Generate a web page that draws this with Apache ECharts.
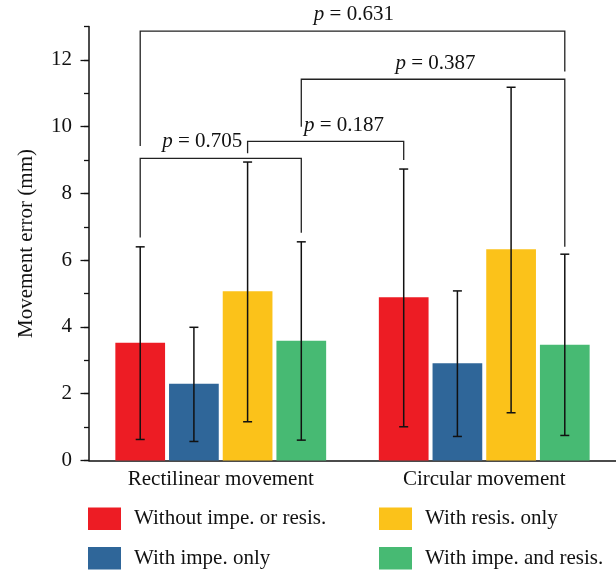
<!DOCTYPE html>
<html>
<head>
<meta charset="utf-8">
<script src="https://cdn.jsdelivr.net/npm/echarts@6/dist/echarts.min.js"></script>
<style>
  html, body { margin: 0; padding: 0; background: #fff; }
  #main { width: 616px; height: 574px; }
</style>
</head>
<body>
<div id="main"></div>
<script>
// data
const categories = ['Rectilinear movement', 'Circular movement'];
const seriesNames = ['Without impe. or resis.', 'With impe. only', 'With resis. only', 'With impe. and resis.'];
const colors = ['#ED1C24', '#2F6699', '#FBC21A', '#47BA73'];
const meanNoImpNoRes = [3.53, 4.89];
const meanImpOnly = [2.30, 2.91];
const meanResOnly = [5.07, 6.33];
const meanImpRes = [3.59, 3.47];
const lowNoImpNoRes = [0.63, 1.01];
const highNoImpNoRes = [6.40, 8.73];
const lowImpOnly = [0.57, 0.72];
const highImpOnly = [3.99, 5.08];
const lowResOnly = [1.16, 1.43];
const highResOnly = [8.94, 11.18];
const lowImpRes = [0.61, 0.75];
const highImpRes = [6.55, 6.18];
const yTicks = [0, 2, 4, 6, 8, 10, 12];

// significance brackets: [cat1, bar1, cat2, bar2, top, leftEnd, rightEnd]
const brackets = [
  [0, 0, 1, 3, 12.86, 9.42, 11.65],
  [0, 3, 1, 3, 11.42, 10.0, 6.40],
  [0, 2, 1, 0, 9.56, 9.20, 9.00],
  [0, 0, 0, 3, 9.05, 6.68, 6.82]
];
// p labels: [cat, bar slot, y, text, align]
const pLabels = [
  [0, 3.98, 13.35, '0.631', 'center'],
  [0, 5.5, 11.9, '0.387', 'center'],
  [0, 3.05, 10.05, '0.187', 'left'],
  [0, 1.9, 9.55, '0.705', 'right']
];

const means = [meanNoImpNoRes, meanImpOnly, meanResOnly, meanImpRes];
const lows = [lowNoImpNoRes, lowImpOnly, lowResOnly, lowImpRes];
const highs = [highNoImpNoRes, highImpOnly, highResOnly, highImpRes];

const catGap = 0.2;
const barGap = 0.08;
const font = 'Liberation Serif';

// x of bar "slot" inside a category band, same layout as the bar series
function barX(api, cat, slot) {
  const c = api.coord([cat, 0]);
  const band = api.size([1, 0])[0];
  const w = band * (1 - catGap) / (4 + 3 * barGap);
  return c[0] - band * (1 - catGap) / 2 + w / 2 + slot * w * (1 + barGap);
}

let errData = [];
for (let s = 0; s < 4; s++) {
  for (let c = 0; c < categories.length; c++) {
    errData.push([c, s, lows[s][c], highs[s][c]]);
  }
}

let series = seriesNames.map(function (name, i) {
  return {
    name: name,
    type: 'bar',
    data: means[i],
    barGap: (barGap * 100) + '%',
    barCategoryGap: (catGap * 100) + '%',
    itemStyle: { color: colors[i] }
  };
});

series.push({
  type: 'custom',
  data: errData,
  z: 5,
  renderItem: function (params, api) {
    const x = barX(api, api.value(0), api.value(1));
    const lo = api.coord([api.value(0), api.value(2)])[1];
    const hi = api.coord([api.value(0), api.value(3)])[1];
    const st = { stroke: '#111', lineWidth: 1.5 };
    return {
      type: 'group',
      children: [
        { type: 'line', shape: { x1: x, y1: lo, x2: x, y2: hi }, style: st },
        { type: 'line', shape: { x1: x - 4.5, y1: lo, x2: x + 4.5, y2: lo }, style: st },
        { type: 'line', shape: { x1: x - 4.5, y1: hi, x2: x + 4.5, y2: hi }, style: st }
      ]
    };
  }
});

series.push({
  type: 'custom',
  data: brackets,
  z: 5,
  clip: false,
  renderItem: function (params, api) {
    const x1 = barX(api, api.value(0), api.value(1));
    const x2 = barX(api, api.value(2), api.value(3));
    const top = api.coord([0, api.value(4)])[1];
    const l = api.coord([0, api.value(5)])[1];
    const r = api.coord([0, api.value(6)])[1];
    return {
      type: 'polyline',
      shape: { points: [[x1, l], [x1, top], [x2, top], [x2, r]] },
      style: { stroke: '#222', lineWidth: 1.3, fill: null }
    };
  }
});

series.push({
  type: 'custom',
  data: pLabels,
  z: 6,
  clip: false,
  renderItem: function (params, api) {
    const d = pLabels[params.dataIndex];
    const x = barX(api, d[0], d[1]);
    const y = api.coord([0, d[2]])[1];
    return {
      type: 'text',
      x: x,
      y: y,
      style: {
        text: '{i|p} = ' + d[3],
        align: d[4],
        verticalAlign: 'middle',
        fontFamily: font,
        fontSize: 21,
        fill: '#111',
        rich: { i: { fontStyle: 'italic', fontFamily: font, fontSize: 21, fill: '#111' } }
      }
    };
  }
});

const legendBase = {
  orient: 'vertical',
  top: 507.5,
  padding: 0,
  icon: 'rect',
  itemWidth: 33, itemHeight: 22.5, itemGap: 17,
  textStyle: { fontFamily: font, fontSize: 21, color: '#111', padding: [0, 0, 0, 8] }
};

const chart = echarts.init(document.getElementById('main'));
chart.setOption({
  animation: false,
  textStyle: { fontFamily: font },
  grid: { left: 89, top: 26.5, width: 529, height: 434, containLabel: false },
  legend: [
    Object.assign({}, legendBase, { data: [seriesNames[0], seriesNames[1]], left: 88 }),
    Object.assign({}, legendBase, { data: [seriesNames[2], seriesNames[3]], left: 379 })
  ],
  xAxis: {
    type: 'category',
    data: categories,
    axisLine: { lineStyle: { color: '#111', width: 1.5 } },
    axisTick: { show: false },
    axisLabel: { fontFamily: font, fontSize: 21, color: '#111', margin: 8 }
  },
  yAxis: [
    {
      type: 'value',
      min: 0, max: 13,
      name: 'Movement error (mm)',
      nameLocation: 'middle',
      nameGap: 52,
      nameTextStyle: { fontFamily: font, fontSize: 21, color: '#111' },
      axisLine: { show: true, lineStyle: { color: '#111', width: 1.5 } },
      axisTick: { show: true, length: 8.5, customValues: yTicks, lineStyle: { color: '#111', width: 1.3 } },
      axisLabel: { customValues: yTicks, fontFamily: font, fontSize: 21, color: '#111', margin: 17 },
      splitLine: { show: false }
    },
    {
      type: 'value',
      min: 0, max: 13, interval: 1,
      position: 'left',
      axisLine: { show: false },
      axisTick: { show: true, length: 5, lineStyle: { color: '#111', width: 1.3 } },
      axisLabel: { show: false },
      splitLine: { show: false }
    }
  ],
  series: series
});
</script>
</body>
</html>
